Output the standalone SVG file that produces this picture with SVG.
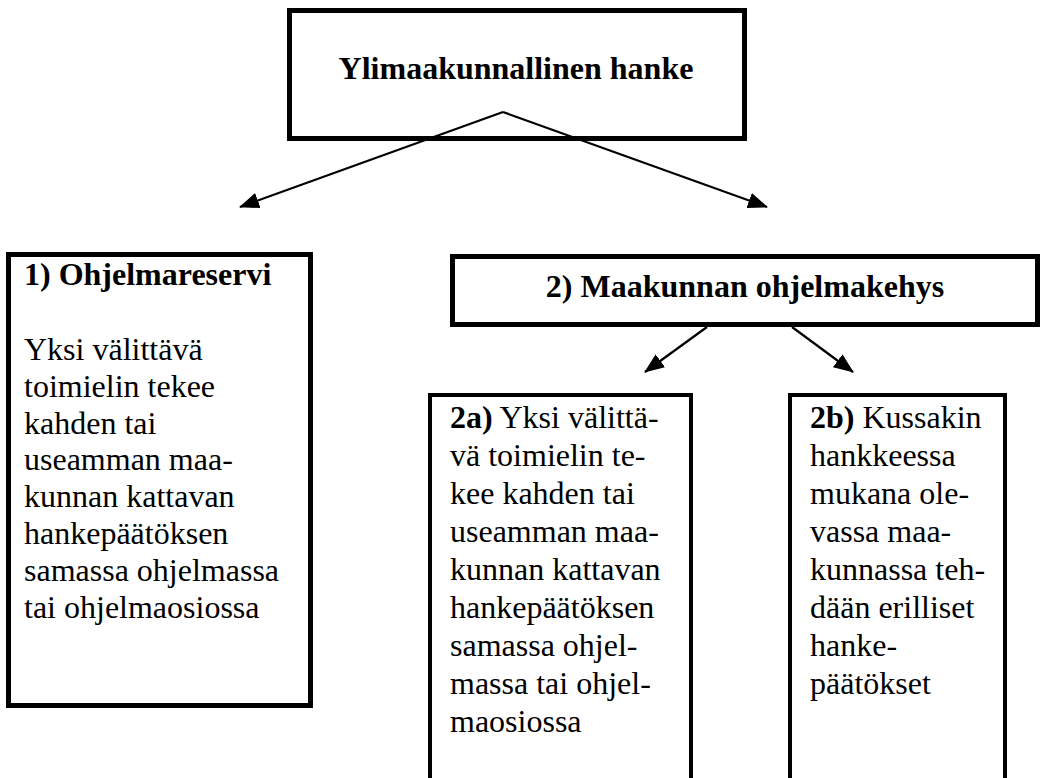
<svg xmlns="http://www.w3.org/2000/svg" width="1043" height="778" viewBox="0 0 1043 778">
<style>
.box{fill:#fff;stroke:#000;stroke-width:5}
.thin{fill:#fff;stroke:#000;stroke-width:4}
.t{font-family:"Liberation Serif","Times New Roman",serif;font-size:32px;fill:#000}
.b{font-weight:bold}
.conn{stroke:#000;stroke-width:2.2;fill:none;marker-end:url(#ah)}
</style>
<defs>
<marker id="ah" markerUnits="userSpaceOnUse" markerWidth="20" markerHeight="16" viewBox="0 0 20 16" refX="19" refY="8" orient="auto">
<path d="M0,0 L20,8 L0,16 Z" fill="#000"/>
</marker>
</defs>
<rect width="1043" height="778" fill="#fff"/>
<g id="top">
<rect class="box" x="289.5" y="10.5" width="455" height="128"/>
<text class="t b" x="516" y="79" text-anchor="middle">Ylimaakunnallinen hanke</text>
</g>
<g id="n1">
<rect class="box" x="8.5" y="254.5" width="302" height="451"/>
<text class="t b" x="24" y="285">1) Ohjelmareservi</text>
<text class="t" x="24" y="360">Yksi välittävä</text>
<text class="t" x="24" y="397">toimielin tekee</text>
<text class="t" x="24" y="434">kahden tai</text>
<text class="t" x="24" y="470">useamman maa-</text>
<text class="t" x="24" y="507">kunnan kattavan</text>
<text class="t" x="24" y="544">hankepäätöksen</text>
<text class="t" x="24" y="581">samassa ohjelmassa</text>
<text class="t" x="24" y="618">tai ohjelmaosiossa</text>
</g>
<g id="n2">
<rect class="box" x="452.5" y="256.5" width="585" height="68"/>
<text class="t b" x="745" y="297" text-anchor="middle">2) Maakunnan ohjelmakehys</text>
</g>
<g id="n2a">
<rect class="thin" x="430" y="395" width="261" height="400"/>
<text class="t" x="450" y="428"><tspan class="b">2a)</tspan> Yksi välittä-</text>
<text class="t" x="450" y="466">vä toimielin te-</text>
<text class="t" x="450" y="504">kee kahden tai</text>
<text class="t" x="450" y="542">useamman maa-</text>
<text class="t" x="450" y="580">kunnan kattavan</text>
<text class="t" x="450" y="618">hankepäätöksen</text>
<text class="t" x="450" y="656">samassa ohjel-</text>
<text class="t" x="450" y="694">massa tai ohjel-</text>
<text class="t" x="450" y="732">maosiossa</text>
</g>
<g id="n2b">
<rect class="thin" x="790" y="395" width="215" height="400"/>
<text class="t" x="810" y="428"><tspan class="b">2b)</tspan> Kussakin</text>
<text class="t" x="810" y="466">hankkeessa</text>
<text class="t" x="810" y="504">mukana ole-</text>
<text class="t" x="810" y="542">vassa maa-</text>
<text class="t" x="810" y="580">kunnassa teh-</text>
<text class="t" x="810" y="618">dään erilliset</text>
<text class="t" x="810" y="656">hanke-</text>
<text class="t" x="810" y="694">päätökset</text>
</g>
<g id="connectors">
<line class="conn" x1="503" y1="112" x2="240" y2="207"/>
<line class="conn" x1="503" y1="112" x2="767" y2="207"/>
<line class="conn" x1="707" y1="327" x2="645" y2="372"/>
<line class="conn" x1="792" y1="327" x2="853" y2="372"/>
</g>
</svg>
